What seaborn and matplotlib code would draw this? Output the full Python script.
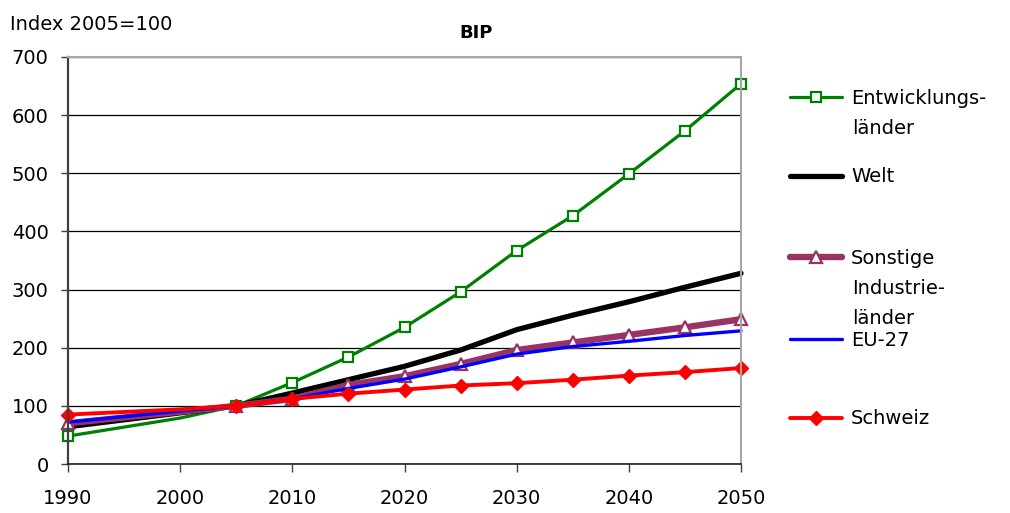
import numpy as np
import pandas as pd
import seaborn as sns
import matplotlib
matplotlib.use("Agg")
import matplotlib.pyplot as plt

# ---- data ----
years = [1990, 2000, 2005, 2010, 2015, 2020, 2025, 2030, 2035, 2040, 2045, 2050]
marker_years = [1990, 2005, 2010, 2015, 2020, 2025, 2030, 2035, 2040, 2045, 2050]
entwicklungslaender = [48, 79, 100, 140, 184, 235, 296, 367, 427, 499, 573, 654]
welt = [64, 88, 100, 122, 145, 168, 196, 231, 256, 279, 304, 328]
sonstige = [70, 90, 100, 112, 136, 151, 172, 196, 209, 222, 235, 249]
eu27 = [72, 91, 100, 112, 130, 146, 167, 189, 202, 211, 221, 229]
schweiz = [85, 94, 100, 112, 121, 128, 135, 139, 145, 152, 158, 165]

legend_labels = ["Entwicklungs-\nländer", "Welt", "Sonstige\nIndustrie-\nländer", "EU-27", "Schweiz"]
x_ticks = [1990, 2000, 2010, 2020, 2030, 2040, 2050]
y_ticks = [0, 100, 200, 300, 400, 500, 600, 700]
title = "BIP"
y_title = "Index 2005=100"

sns.set_theme(style="white")
plt.rcParams['font.family'] = ['DejaVu Sans']
plt.rcParams['text.color'] = 'black'
plt.rcParams['xtick.color'] = 'black'
plt.rcParams['ytick.color'] = 'black'

W, H = 1010, 513
FS = 14
fig = plt.figure(figsize=(W / 100, H / 100), dpi=100)
x0, x1, y_top, y_bot = 68, 741, 57, 464
ax = fig.add_axes([x0 / W, (H - y_bot) / H, (x1 - x0) / W, (y_bot - y_top) / H])

mk_idx = [i for i, y in enumerate(years) if y in marker_years]

styles = [
    (entwicklungslaender, dict(color="#008000", lw=2.3, marker="s", ms=7.5, mfc="white", mec="#008000", mew=1.6, markevery=mk_idx)),
    (welt, dict(color="black", lw=3.8)),
    (sonstige, dict(color="#993366", lw=4.6, marker="^", ms=8.5, mfc="white", mec="#993366", mew=1.6, markevery=mk_idx)),
    (eu27, dict(color="#0000FF", lw=2.4)),
    (schweiz, dict(color="#FF0000", lw=2.8, marker="D", ms=6.8, mfc="#FF0000", mec="#FF0000", mew=1.0, markevery=mk_idx)),
]

handles = []
for vals, st in styles:
    sns.lineplot(x=years, y=vals, ax=ax, clip_on=False, solid_joinstyle="round", **st)
    handles.append(ax.lines[-1])

ax.set_xlim(1990, 2050)
ax.set_ylim(0, 700)
ax.set_xticks(x_ticks)
ax.set_yticks(y_ticks)
ax.set_xlabel("")
ax.set_ylabel("")

ax.yaxis.grid(True, color="black", lw=0.9)
ax.xaxis.grid(False)
ax.set_axisbelow(True)

for side in ["top", "right"]:
    ax.spines[side].set_color("#a6a6a6")
    ax.spines[side].set_linewidth(1.5)
ax.spines["left"].set_color("#404040")
ax.spines["left"].set_linewidth(1.6)
ax.spines["bottom"].set_color("#202020")
ax.spines["bottom"].set_linewidth(1.2)

ax.tick_params(axis="y", which="major", direction="out", length=5, width=1.0,
               color="#404040", left=True, pad=9, labelsize=FS, labelcolor="black")
ax.tick_params(axis="x", which="major", direction="out", length=6, width=1.0,
               color="#404040", bottom=True, pad=12, labelsize=FS, labelcolor="black")

# legend: one entry per legend box, handle aligned with the first text line
legend_rows = [98, 177, 258, 340, 419]
for h, lab, yc in zip(handles, legend_labels, legend_rows):
    first, *rest = lab.split("\n")
    lg = fig.legend([h], [first], loc="center left",
                    bbox_to_anchor=(790 / W, 1 - yc / H), frameon=False,
                    fontsize=FS, handlelength=2.65, handletextpad=0.5,
                    borderpad=0, borderaxespad=0, numpoints=1, labelcolor="black")
    for k, extra in enumerate(rest):
        fig.text(852 / W, 1 - (yc + 30 * (k + 1)) / H, extra, fontsize=FS,
                 va="center", ha="left", color="black")

fig.text(476 / W, 1 - 38.5 / H, title, fontsize=13, fontweight="bold",
         ha="center", va="baseline", color="black")
fig.text(10 / W, 1 - 29.5 / H, y_title, fontsize=FS, ha="left", va="baseline", color="black")

fig.savefig("out.png", dpi=100)
